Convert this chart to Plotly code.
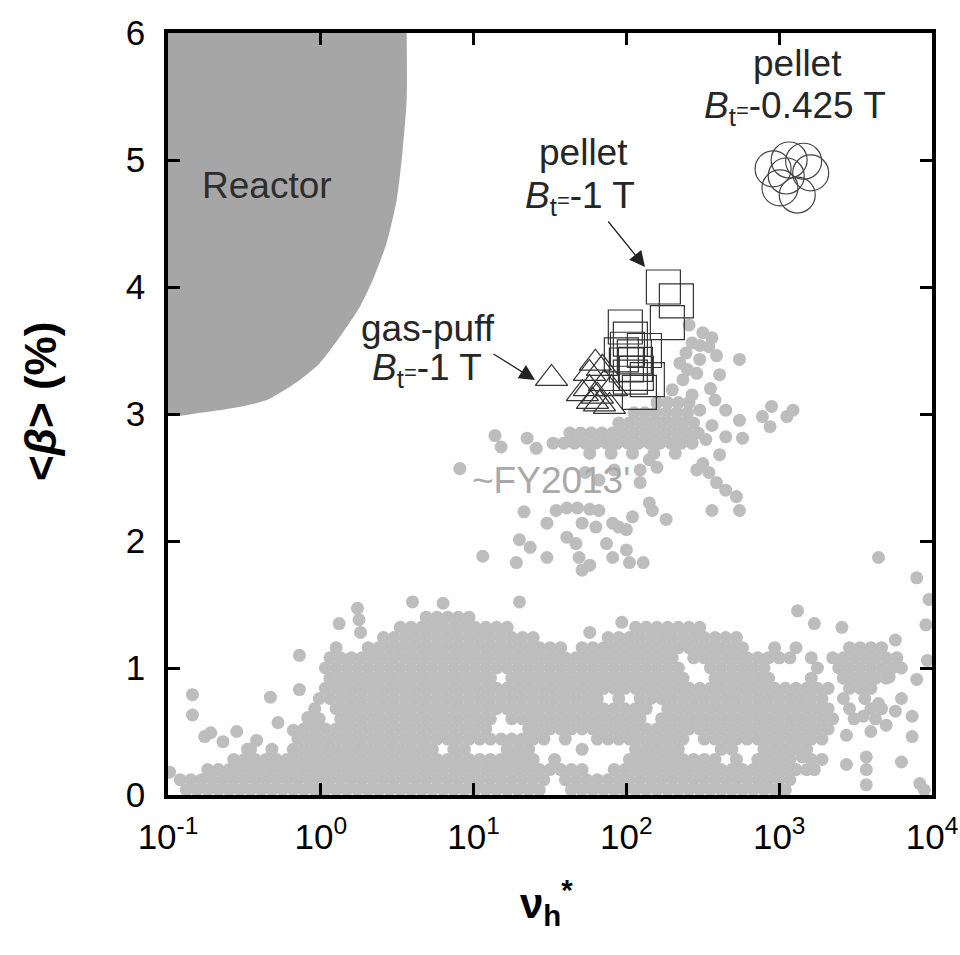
import plotly.graph_objects as go

# ---------------- data (log10 of nu_h* and <beta> in %) ----------------
# Reactor regime boundary
REACTOR_LOG10_NU = [-1.0, -1.0, -0.79, -0.575, -0.353, -0.137, -0.007, 0.124, 0.255, 0.34, 0.431, 0.497, 0.536, 0.562, 0.562]
REACTOR_BETA     = [6.0, 3.0, 3.01, 3.047, 3.11, 3.268, 3.40, 3.606, 3.843, 4.055, 4.346, 4.685, 5.079, 5.472, 6.0]

# ~FY2013 database, dense low-beta cloud read row by row
ROW_BETA = [0.04, 0.12, 0.20, 0.28, 0.36, 0.44, 0.52, 0.60, 0.68, 0.76, 0.84, 0.92, 1.00, 1.08, 1.16, 1.24, 1.32, 1.40]
ROW_LOG10_NU = [
    [-0.88,-0.81,-0.74,-0.67,-0.60,-0.53,-0.46,-0.39,-0.32,-0.25,-0.18,-0.11,-0.04,0.03,0.10,0.17,0.24,0.31,0.38,0.45,0.52,0.59,0.66,0.73,0.80,0.87,0.94,1.01,1.08,1.15,1.22,1.29,1.36,1.43,1.64,1.71,1.78,1.85,1.92,1.99,2.06,2.13,2.20,2.27,2.34,2.41,2.48,2.55,2.62,2.69,2.76,2.83,2.90,2.97,3.04],
    [-0.92,-0.85,-0.78,-0.71,-0.64,-0.57,-0.50,-0.43,-0.36,-0.29,-0.22,-0.15,-0.08,-0.01,0.06,0.13,0.20,0.27,0.34,0.41,0.48,0.55,0.62,0.69,0.76,0.83,0.90,0.97,1.04,1.11,1.18,1.25,1.32,1.39,1.46,1.60,1.67,1.74,1.81,1.88,1.95,2.02,2.09,2.16,2.23,2.30,2.37,2.44,2.51,2.58,2.65,2.72,2.79,2.86,2.93,3.00,3.07],
    [-0.74,-0.67,-0.60,-0.53,-0.46,-0.39,-0.32,-0.25,-0.18,-0.11,-0.04,0.03,0.10,0.17,0.24,0.31,0.38,0.45,0.52,0.59,0.66,0.73,0.80,0.87,0.94,1.01,1.08,1.15,1.22,1.29,1.36,1.43,1.50,1.57,1.64,1.71,1.92,1.99,2.06,2.13,2.20,2.27,2.34,2.41,2.48,2.55,2.62,2.69,2.76,2.83,2.90,2.97,3.04,3.11,3.18],
    [-0.57,-0.50,-0.43,-0.36,-0.29,-0.22,-0.15,-0.08,-0.01,0.06,0.13,0.20,0.27,0.34,0.41,0.48,0.55,0.62,0.69,0.76,0.83,0.90,0.97,1.04,1.11,1.18,1.25,1.32,1.39,1.53,2.02,2.09,2.16,2.23,2.30,2.37,2.44,2.51,2.58,2.72,2.86,2.93,3.00,3.07,3.21],
    [-0.46,-0.32,-0.18,-0.11,-0.04,0.03,0.10,0.17,0.24,0.31,0.38,0.45,0.52,0.59,0.66,0.73,0.87,0.94,1.22,1.29,1.36,1.71,2.06,2.13,2.20,2.27,2.34,2.62,2.69,2.90,2.97,3.04,3.11,3.18],
    [-0.15,-0.08,-0.01,0.06,0.13,0.20,0.27,0.34,0.41,0.48,0.55,0.62,0.69,0.76,0.83,0.90,0.97,1.04,1.11,1.18,1.25,1.32,1.39,1.46,1.60,1.81,1.88,1.95,2.02,2.09,2.16,2.23,2.30,2.37,2.51,2.58,2.65,2.72,2.79,2.86,2.93,3.00,3.07,3.14,3.21,3.28],
    [-0.11,-0.04,0.03,0.10,0.17,0.24,0.31,0.38,0.45,0.52,0.59,0.66,0.73,0.80,0.87,0.94,1.01,1.08,1.36,1.43,1.50,1.57,1.64,1.71,1.78,1.85,1.92,1.99,2.06,2.13,2.20,2.27,2.34,2.41,2.48,2.55,2.62,2.69,2.76,2.83,2.90,2.97,3.04,3.11,3.18,3.25,3.32],
    [-0.08,-0.01,0.13,0.20,0.27,0.34,0.41,0.48,0.55,0.62,0.69,0.76,0.83,0.90,0.97,1.04,1.11,1.25,1.32,1.39,1.46,1.53,1.60,1.67,1.74,1.81,1.88,1.95,2.02,2.09,2.23,2.30,2.37,2.44,2.51,2.58,2.65,2.72,2.79,2.86,2.93,3.00,3.07,3.14,3.21,3.28,3.35,3.49,3.63],
    [-0.04,0.10,0.17,0.24,0.31,0.38,0.45,0.52,0.59,0.66,0.73,0.80,0.87,0.94,1.01,1.08,1.15,1.22,1.29,1.36,1.43,1.50,1.57,1.64,1.71,1.78,1.85,1.92,1.99,2.06,2.13,2.27,2.34,2.41,2.48,2.55,2.62,2.69,2.76,2.83,2.90,2.97,3.04,3.11,3.18,3.25,3.32,3.46,3.60,3.67],
    [-0.01,0.06,0.13,0.20,0.27,0.34,0.41,0.48,0.55,0.62,0.69,0.76,0.83,0.90,0.97,1.04,1.11,1.18,1.25,1.32,1.39,1.46,1.53,1.60,1.67,1.74,1.81,1.95,2.09,2.16,2.23,2.30,2.37,2.44,2.51,2.58,2.65,2.72,2.79,2.86,2.93,3.00,3.07,3.14,3.21,3.28,3.42,3.56],
    [0.03,0.10,0.17,0.24,0.31,0.38,0.45,0.52,0.59,0.66,0.73,0.80,0.87,0.94,1.01,1.08,1.15,1.22,1.29,1.36,1.43,1.50,1.57,1.64,1.71,1.78,1.85,1.92,1.99,2.06,2.13,2.20,2.27,2.34,2.41,2.48,2.55,2.62,2.69,2.76,2.83,2.90,2.97,3.04,3.11,3.18,3.25,3.32,3.46,3.53,3.60],
    [0.06,0.13,0.20,0.27,0.34,0.41,0.48,0.55,0.62,0.69,0.76,0.83,0.90,0.97,1.04,1.11,1.25,1.32,1.39,1.46,1.53,1.60,1.67,1.74,1.81,1.88,1.95,2.02,2.09,2.16,2.23,2.30,2.37,2.58,2.65,2.72,2.79,2.86,2.93,3.21,3.42,3.49,3.56,3.63,3.70],
    [0.03,0.10,0.17,0.24,0.31,0.38,0.45,0.52,0.59,0.66,0.73,0.80,0.87,0.94,1.01,1.08,1.15,1.22,1.29,1.36,1.43,1.50,1.57,1.64,1.71,1.78,1.85,1.92,1.99,2.06,2.13,2.20,2.27,2.34,2.55,2.62,2.69,2.76,2.83,2.90,3.25,3.39,3.46,3.53,3.60,3.67,3.74],
    [0.06,0.13,0.20,0.27,0.34,0.41,0.48,0.55,0.62,0.69,0.76,0.83,0.90,0.97,1.04,1.11,1.18,1.25,1.32,1.39,1.46,1.53,1.60,1.67,1.74,1.81,1.88,1.95,2.02,2.09,2.16,2.23,2.30,2.44,2.51,2.58,2.65,2.72,2.79,2.86,2.93,3.00,3.07,3.21,3.35,3.42,3.49,3.56,3.63,3.70,3.77],
    [0.10,0.31,0.38,0.45,0.52,0.59,0.66,0.73,0.80,0.87,0.94,1.01,1.08,1.15,1.22,1.29,1.36,1.43,1.50,1.57,1.71,1.78,1.85,1.92,1.99,2.06,2.13,2.20,2.27,2.34,2.41,2.48,2.55,2.62,2.69,2.76,2.97,3.11,3.46,3.53,3.60,3.67],
    [0.41,0.48,0.55,0.62,0.69,0.76,0.83,0.90,0.97,1.04,1.11,1.18,1.25,1.32,1.39,1.88,1.95,2.02,2.09,2.16,2.23,2.30,2.37,2.44,2.51,2.58,2.65,2.72],
    [0.52,0.59,0.66,0.73,0.80,0.87,0.94,1.01,1.08,1.15,1.22,2.06,2.13,2.20,2.27,2.34,2.41,2.48],
    [0.69,0.76,0.83,0.90,0.97],
]

# ~FY2013 database, scattered low-beta points
LOW_LOG10_NU = [-0.99,-0.84,-0.84,-0.76,-0.72,-0.64,-0.55,-0.48,-0.42,-0.33,-0.28,-0.18,-0.14,-0.14,-0.085,-0.02,0.12,0.24,0.25,0.26,0.60,0.80,1.30,1.76,1.97,3.12,3.23,3.41,3.65,3.90,3.98,3.96,3.97,3.90,3.76,3.80,3.72,3.87,3.87,3.80,3.44,3.57,3.57,3.57,3.92,3.95,3.44,3.60,3.70,3.76,3.65,3.55,3.80,3.28,3.23,3.15]
LOW_BETA       = [0.18,0.79,0.63,0.46,0.49,0.42,0.50,0.36,0.43,0.77,0.57,0.51,0.83,1.10,0.61,0.55,1.35,1.47,1.38,1.28,1.52,1.51,1.52,1.28,1.36,1.45,1.35,1.32,1.87,1.71,1.54,1.34,1.06,0.91,1.22,1.00,0.93,0.62,0.46,0.26,0.24,0.30,0.20,0.08,0.09,0.04,0.47,0.50,0.55,0.66,0.72,0.62,0.76,0.28,0.20,0.30]

# ~FY2013 database, high-beta cluster
MID_ROW_BETA = [3.09, 3.01, 2.93, 2.85, 2.77, 2.69]
MID_ROW_LOG10_NU = [
    [2.20, 2.27, 2.34, 2.41],
    [2.05, 2.12, 2.19, 2.26, 2.33, 2.40],
    [1.95, 2.02, 2.09, 2.16, 2.23, 2.30, 2.37, 2.44],
    [1.63, 1.70, 1.77, 1.84, 1.91, 1.98, 2.05, 2.12, 2.19, 2.26, 2.33, 2.40, 2.47],
    [1.52, 1.59, 1.66, 1.73, 1.80, 1.87, 1.94, 2.01, 2.08, 2.15, 2.22, 2.29, 2.36, 2.43],
    [1.76, 1.90, 2.04, 2.18, 2.32],
]
MID_LOG10_NU = [2.35,2.39,2.43,2.50,2.41,2.56,2.54,2.48,2.48,2.59,2.46,2.37,2.30,2.61,2.74,2.43,2.48,2.55,2.40,
                1.14,1.18,1.35,1.41,0.91,
                2.50,2.54,2.59,2.65,2.72,2.56,2.46,2.52,2.61,2.74,
                2.65,2.74,2.65,2.76,2.89,2.95,3.05,3.09,2.94,2.56,2.58,
                2.20,2.09,2.09,2.15,1.82,1.92,1.73,
                1.33,1.48,1.54,1.61,1.68,1.76,1.82,1.71,1.80,1.91,2.00,2.04,2.15,2.17,2.26,1.30,1.37,1.48,1.61,1.67,1.69,1.71,1.87,1.91,2.00,2.02,2.11,1.95,1.06,1.28,1.76]
MID_BETA     = [3.40,3.48,3.56,3.64,3.70,3.60,3.53,3.54,3.43,3.46,3.32,3.27,3.19,3.31,3.43,3.15,3.03,3.20,3.35,
                2.83,2.74,2.81,2.73,2.57,
                2.61,2.54,2.46,2.40,2.35,2.24,2.56,2.80,2.68,2.24,
                3.03,2.95,2.82,2.81,2.98,3.06,2.98,3.03,2.90,2.91,3.11,
                2.58,2.46,2.56,2.64,2.48,2.56,2.54,
                2.23,2.14,2.24,2.26,2.26,2.25,2.24,2.14,2.11,2.14,2.09,2.19,2.30,2.24,2.17,2.01,1.95,1.87,2.03,1.98,1.87,1.77,1.98,1.87,1.93,1.83,1.83,2.11,1.88,1.83,1.81]

# gas-puff, Bt = -1 T (triangles)
GAS_LOG10_NU = [1.51, 1.758, 1.797, 1.843, 1.758, 1.712, 1.810, 1.856, 1.824, 1.889, 1.902, 1.778]
GAS_BETA     = [3.28, 3.32, 3.40, 3.36, 3.20, 3.16, 3.14, 3.24, 3.08, 3.06, 3.20, 3.10]

# pellet, Bt = -1 T (squares)
PEL1_LOG10_NU = [2.242, 2.327, 2.268, 1.993, 2.026, 1.967, 2.007, 2.052, 2.0, 2.065, 2.085, 2.059, 2.026, 2.118, 2.137]
PEL1_BETA     = [4.00, 3.89, 3.72, 3.685, 3.59, 3.465, 3.51, 3.45, 3.386, 3.32, 3.17, 3.39, 3.29, 3.50, 3.27]

# pellet, Bt = -0.425 T (circles)
PEL2_LOG10_NU = [3.046, 3.118, 3.206, 3.065, 2.960, 3.005, 3.160]
PEL2_BETA     = [4.874, 4.724, 4.898, 5.0, 4.930, 4.78, 4.99]

X_TICK_VALS = [0.1, 1, 10, 100, 1000, 10000]
X_TICK_TEXT = ["10<sup>-1</sup>", "10<sup>0</sup>", "10<sup>1</sup>", "10<sup>2</sup>", "10<sup>3</sup>", "10<sup>4</sup>"]
Y_TICK_VALS = [0, 1, 2, 3, 4, 5, 6]

# ---------------- figure ----------------
W, H = 960, 955
ML, MR, MT, MB = 168, 28, 33, 160
PW, PH = W - ML - MR, H - MT - MB


def P(px, py):
    return (px - ML) / PW, (H - MB - py) / PH


FONT = "Liberation Sans, Arial, sans-serif"
DOT = "#bdbdbd"
INK = "#262626"

fig = go.Figure()

fig.add_trace(go.Scatter(
    x=[10 ** v for v in REACTOR_LOG10_NU], y=REACTOR_BETA,
    mode="lines", line=dict(width=0, color="#a6a6a6", shape="spline", smoothing=0.6),
    fill="toself", fillcolor="#a6a6a6", hoverinfo="skip", showlegend=False))

dx, dy = [], []
for b, row in list(zip(ROW_BETA, ROW_LOG10_NU)) + list(zip(MID_ROW_BETA, MID_ROW_LOG10_NU)):
    for v in row:
        dx.append(10 ** v)
        dy.append(b)
dx += [10 ** v for v in LOW_LOG10_NU]
dy += LOW_BETA
dx += [10 ** v for v in MID_LOG10_NU]
dy += MID_BETA

fig.add_trace(go.Scatter(x=dx, y=dy, mode="markers",
                         marker=dict(size=13, color=DOT, line=dict(width=0)),
                         showlegend=False, hoverinfo="skip"))

fig.add_trace(go.Scatter(x=[10 ** v for v in GAS_LOG10_NU], y=GAS_BETA, mode="markers",
                         marker=dict(symbol="triangle-up-open", size=28, color="#333333",
                                     line=dict(width=1.2, color="#333333")),
                         showlegend=False))
fig.add_trace(go.Scatter(x=[10 ** v for v in PEL1_LOG10_NU], y=PEL1_BETA, mode="markers",
                         marker=dict(symbol="square-open", size=34, color="#333333",
                                     line=dict(width=1.2, color="#333333")),
                         showlegend=False))
fig.add_trace(go.Scatter(x=[10 ** v for v in PEL2_LOG10_NU], y=PEL2_BETA, mode="markers",
                         marker=dict(symbol="circle-open", size=36, color="#444444",
                                     line=dict(width=1.2, color="#444444")),
                         showlegend=False))

axis_common = dict(showline=True, linewidth=3.5, linecolor="black", mirror="ticks",
                   ticks="inside", ticklen=12, tickwidth=3, tickcolor="black",
                   showgrid=False, zeroline=False, automargin=False,
                   tickfont=dict(family=FONT, size=35, color="black"))

fig.update_xaxes(type="log", range=[-1, 4], tickvals=X_TICK_VALS, ticktext=X_TICK_TEXT,
                 ticklabelstandoff=8, **axis_common)
fig.update_yaxes(range=[0, 6], tickvals=Y_TICK_VALS, ticklabelstandoff=12, **axis_common)

ann = []


def text(px, py, s, size=37, color=INK, **kw):
    x, y = P(px, py)
    ann.append(dict(x=x, y=y, xref="paper", yref="paper", text=s, showarrow=False,
                    xanchor="center", yanchor="middle",
                    font=dict(family=FONT, size=size, color=color), **kw))


EQ = "<span style='font-size:22px'>=</span>"
text(267, 186, "Reactor", color="#2e2e2e")
text(797, 64, "pellet")
text(795, 108, "<i>B</i><sub>t</sub>" + EQ + "-0.425 T")
text(583, 152, "pellet")
text(580, 198, "<i>B</i><sub>t</sub>" + EQ + "-1 T")
text(428, 328, "gas-puff")
text(427, 370, "<i>B</i><sub>t</sub>" + EQ + "-1 T")
text(551, 480, "~FY2013'", size=37, color="#a9a9a9")

# axis titles
text(40, 402, "<b>&lt;<i>β</i>&gt; (%)</b>", size=44, color="black", textangle=-90)
text(546, 902, "<b>ν<sub>h</sub><sup>*</sup></b>", size=42, color="black")

# arrows
for tip, tail in [((645, 267), (607, 220)), ((535, 380), (492, 353))]:
    x, y = P(*tip)
    ann.append(dict(x=x, y=y, xref="paper", yref="paper", text="", showarrow=True,
                    ax=tail[0] - tip[0], ay=tail[1] - tip[1],
                    arrowhead=2, arrowsize=2.4, arrowwidth=1.3, arrowcolor="#222222",
                    standoff=0))

fig.update_layout(width=W, height=H, margin=dict(l=ML, r=MR, t=MT, b=MB, autoexpand=False),
                  paper_bgcolor="white", plot_bgcolor="white",
                  font=dict(family=FONT), annotations=ann, showlegend=False)

fig.write_html("out.html")
